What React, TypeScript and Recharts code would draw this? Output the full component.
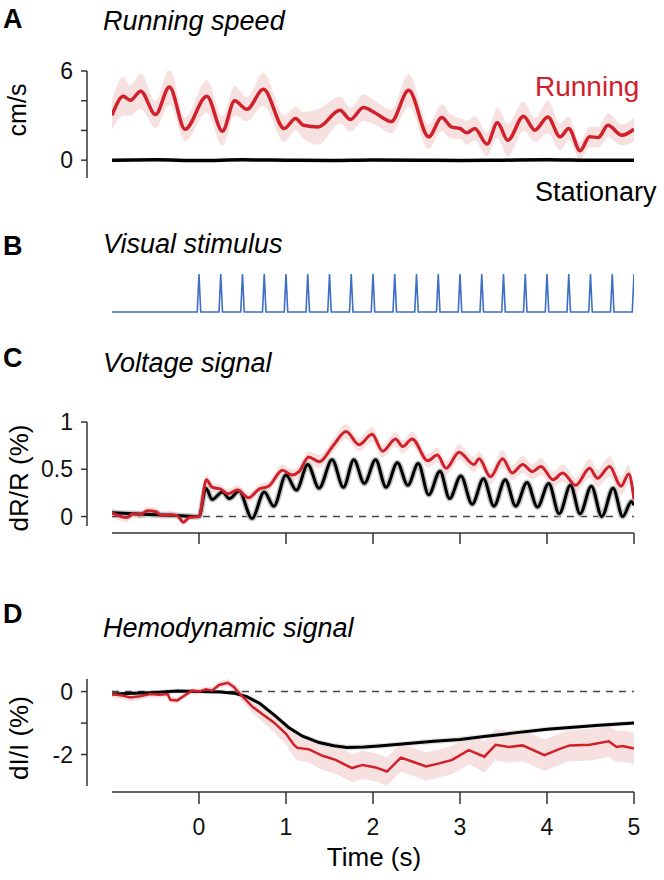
import React from 'react';
import { ComposedChart, Line, Area, XAxis, YAxis, ReferenceLine } from 'recharts';

const FONT = '"Liberation Sans", Arial, Helvetica, sans-serif';
const RED = '#d2202a';
const BAND = '#f7e0e0';
const GRAY_BAND = '#dcdcdc';
const BLUE = '#3d6fc7';
const AX = '#333';

// A: running speed (cm/s)
const runT = [-1, -0.87, -0.79, -0.67, -0.5, -0.34, -0.16, 0.09, 0.27, 0.41, 0.55, 0.74, 0.98, 1.11, 1.2, 1.37, 1.62, 1.74, 1.89, 2.03, 2.21, 2.41, 2.64, 2.79, 2.9, 3.0, 3.08, 3.17, 3.31, 3.43, 3.55, 3.73, 3.86, 4.01, 4.15, 4.25, 4.38, 4.49, 4.59, 4.7, 4.86, 5.0];
const runV = [3.02, 4.3, 4.03, 4.64, 3.07, 4.93, 2.08, 4.3, 1.95, 3.99, 3.42, 4.77, 2.13, 2.8, 2.35, 2.24, 3.36, 2.73, 3.54, 3.16, 2.6, 4.7, 1.57, 2.87, 2.24, 2.13, 1.84, 2.13, 1.08, 2.51, 1.34, 2.96, 2.02, 2.91, 1.57, 2.13, 0.63, 1.57, 1.53, 2.35, 1.68, 2.08];
const runSem = [1.0, 1.3, 1.0, 1.2, 0.9, 1.2, 0.8, 1.1, 1.0, 1.0, 0.8, 1.1, 0.9, 0.8, 0.9, 1.2, 0.9, 0.8, 0.9, 0.8, 0.8, 1.1, 0.8, 0.9, 0.8, 0.7, 0.8, 0.8, 0.8, 1.0, 1.1, 1.0, 0.8, 1.1, 0.9, 0.8, 0.6, 0.7, 0.7, 0.8, 0.7, 0.8];
const statT = [-1, -0.5, 0, 0.5, 1, 1.5, 2, 2.5, 3, 3.5, 4, 4.5, 5];
const statV = [0, 0.02, -0.02, 0.02, 0, -0.02, 0.01, 0, -0.02, 0, 0.02, -0.01, 0];

// B: stimulus onsets (s)
const stimTimes = [0, 0.25, 0.5, 0.75, 1, 1.25, 1.5, 1.75, 2, 2.25, 2.5, 2.75, 3, 3.25, 3.5, 3.75, 4, 4.25, 4.5, 4.75, 5];

// C: voltage signal dR/R (%)
const vRunT = [-1, -0.83, -0.76, -0.68, -0.59, -0.49, -0.43, -0.34, -0.25, -0.18, -0.11, 0, 0.085, 0.15, 0.25, 0.33, 0.44, 0.57, 0.69, 0.8, 0.96, 1.07, 1.15, 1.26, 1.38, 1.55, 1.69, 1.84, 1.99, 2.11, 2.26, 2.34, 2.45, 2.63, 2.74, 2.84, 2.99, 3.16, 3.22, 3.35, 3.49, 3.6, 3.72, 3.83, 3.93, 4.07, 4.18, 4.33, 4.49, 4.58, 4.72, 4.85, 4.94, 5.0];
const vRunV = [0.04, -0.01, 0.03, 0.02, 0.06, 0.05, 0.01, 0.02, 0.01, -0.06, -0.01, 0.0, 0.39, 0.31, 0.29, 0.24, 0.28, 0.2, 0.29, 0.32, 0.49, 0.44, 0.475, 0.63, 0.58, 0.76, 0.9, 0.76, 0.87, 0.69, 0.82, 0.74, 0.82, 0.59, 0.65, 0.51, 0.68, 0.55, 0.61, 0.42, 0.61, 0.46, 0.55, 0.475, 0.53, 0.39, 0.46, 0.33, 0.51, 0.405, 0.53, 0.32, 0.45, 0.18];
const vRunSem = [0.05, 0.05, 0.04, 0.04, 0.04, 0.04, 0.04, 0.04, 0.03, 0.03, 0.03, 0.03, 0.05, 0.05, 0.05, 0.05, 0.05, 0.05, 0.05, 0.05, 0.06, 0.06, 0.06, 0.06, 0.07, 0.07, 0.08, 0.07, 0.08, 0.07, 0.08, 0.07, 0.08, 0.07, 0.08, 0.07, 0.08, 0.08, 0.08, 0.08, 0.09, 0.08, 0.09, 0.08, 0.09, 0.08, 0.09, 0.08, 0.1, 0.09, 0.11, 0.1, 0.1, 0.08];
const vStatT = [-1, -0.75, -0.5, -0.25, 0, 0.08, 0.15, 0.27, 0.35, 0.46, 0.61, 0.75, 0.86, 1.0, 1.12, 1.25, 1.38, 1.53, 1.66, 1.78, 1.9, 2.03, 2.15, 2.28, 2.4, 2.52, 2.64, 2.77, 2.88, 3.01, 3.14, 3.27, 3.39, 3.52, 3.64, 3.77, 3.89, 4.02, 4.14, 4.27, 4.38, 4.51, 4.63, 4.76, 4.87, 4.97, 5.0];
const vStatV = [0.04, 0.03, 0.02, 0.01, 0.0, 0.3, 0.18, 0.26, 0.19, 0.27, -0.02, 0.26, 0.11, 0.44, 0.28, 0.55, 0.3, 0.6, 0.31, 0.6, 0.35, 0.6, 0.31, 0.57, 0.33, 0.56, 0.23, 0.48, 0.19, 0.43, 0.13, 0.4, 0.11, 0.39, 0.11, 0.36, 0.1, 0.35, 0.03, 0.33, 0.03, 0.32, 0.0, 0.3, 0.0, 0.16, 0.12];

// D: hemodynamic signal dI/I (%)
const hRunT = [-1, -0.87, -0.79, -0.68, -0.56, -0.45, -0.36, -0.33, -0.25, -0.17, -0.08, 0, 0.08, 0.15, 0.23, 0.33, 0.4, 0.48, 0.61, 0.73, 0.86, 1.0, 1.09, 1.13, 1.26, 1.42, 1.57, 1.7, 1.76, 1.88, 2.03, 2.16, 2.32, 2.45, 2.61, 2.76, 2.91, 3.1, 3.28, 3.41, 3.56, 3.72, 3.97, 4.14, 4.26, 4.49, 4.71, 4.8, 4.87, 5.0];
const hRunV = [-0.08, -0.13, -0.19, -0.15, -0.08, -0.1, -0.08, -0.26, -0.28, -0.13, 0.03, 0.0, 0.07, 0.03, 0.21, 0.28, 0.15, -0.1, -0.47, -0.72, -0.98, -1.34, -1.69, -1.79, -1.83, -2.04, -2.17, -2.35, -2.43, -2.33, -2.41, -2.54, -2.1, -2.22, -2.38, -2.28, -2.17, -1.86, -2.07, -1.69, -1.76, -1.71, -2.02, -1.83, -1.71, -1.69, -1.58, -1.76, -1.73, -1.81];
const hRunSem = [0.12, 0.12, 0.12, 0.12, 0.1, 0.1, 0.1, 0.1, 0.1, 0.1, 0.1, 0.1, 0.1, 0.1, 0.1, 0.12, 0.12, 0.15, 0.2, 0.25, 0.3, 0.35, 0.4, 0.4, 0.42, 0.45, 0.45, 0.45, 0.45, 0.45, 0.45, 0.45, 0.45, 0.45, 0.45, 0.45, 0.45, 0.45, 0.5, 0.5, 0.5, 0.5, 0.5, 0.5, 0.5, 0.5, 0.5, 0.5, 0.5, 0.5];
const hStatT = [-1, -0.75, -0.5, -0.25, 0, 0.25, 0.4, 0.55, 0.7, 0.88, 1.03, 1.19, 1.38, 1.55, 1.7, 1.9, 2.1, 2.4, 2.7, 3.0, 3.3, 3.6, 4.0, 4.3, 4.6, 5.0];
const hStatV = [-0.08, -0.05, -0.03, 0.02, 0, -0.01, -0.05, -0.16, -0.38, -0.78, -1.14, -1.42, -1.62, -1.72, -1.78, -1.76, -1.72, -1.65, -1.58, -1.52, -1.42, -1.32, -1.2, -1.13, -1.07, -1.0];
const hStatSem = [0.08, 0.08, 0.08, 0.08, 0.06, 0.06, 0.06, 0.07, 0.08, 0.08, 0.08, 0.08, 0.09, 0.09, 0.09, 0.09, 0.09, 0.09, 0.09, 0.09, 0.08, 0.08, 0.08, 0.07, 0.07, 0.07];

const timeTicks = [0, 1, 2, 3, 4, 5];

type Row = { t: number; v: number; band?: [number, number] };

function rows(t: number[], v: number[], sem?: number[]): Row[] {
  return t.map((x, i) => ({
    t: x,
    v: v[i],
    band: sem ? [v[i] - sem[i], v[i] + sem[i]] : undefined,
  }));
}

function stimRows(): Row[] {
  const out: Row[] = [{ t: -1, v: 0 }];
  for (const s of stimTimes) {
    out.push({ t: s - 0.02, v: 0 }, { t: s, v: 1 }, { t: s + 0.02, v: 0 });
  }
  return out;
}

const tickStyle = { fontSize: 23, fill: '#111', fontFamily: FONT };
const axisLine = { stroke: AX, strokeWidth: 1.5 };

function PadY() {
  return <YAxis yAxisId="pad" width={25} axisLine={false} tickLine={false} tick={false} />;
}

function RunningPanel() {
  return (
    <ComposedChart width={664} height={190} margin={{ top: 71, right: 30, bottom: 12, left: 0 }}>
      <XAxis xAxisId="t" type="number" dataKey="t" domain={[-1, 5]} hide allowDataOverflow />
      {PadY()}
      <YAxis
        yAxisId="y"
        width={87}
        type="number"
        domain={[-1.2, 6]}
        ticks={[0, 2, 4, 6]}
        tickFormatter={(v: number) => (v === 0 || v === 6 ? String(v) : '')}
        allowDataOverflow
        axisLine={axisLine}
        tickLine={axisLine}
        tickSize={6}
        tickMargin={8}
        tick={tickStyle}
      />
      <Area xAxisId="t" yAxisId="y" data={rows(runT, runV, runSem)} dataKey="band" type="monotone" stroke="none" fill={BAND} fillOpacity={1} isAnimationActive={false} />
      <Line xAxisId="t" yAxisId="y" data={rows(statT, statV)} dataKey="v" type="monotone" stroke="#000" strokeWidth={3.5} dot={false} activeDot={false} isAnimationActive={false} />
      <Line xAxisId="t" yAxisId="y" data={rows(runT, runV)} dataKey="v" type="monotone" stroke={RED} strokeWidth={3.5} dot={false} activeDot={false} isAnimationActive={false} />
    </ComposedChart>
  );
}

function StimulusPanel() {
  return (
    <ComposedChart width={664} height={60} margin={{ top: 14, right: 30, bottom: 8, left: 112 }}>
      <XAxis xAxisId="t" type="number" dataKey="t" domain={[-1, 5]} hide allowDataOverflow />
      <YAxis yAxisId="y" type="number" domain={[0, 1]} hide />
      <Line xAxisId="t" yAxisId="y" data={stimRows()} dataKey="v" type="linear" stroke={BLUE} strokeWidth={1.6} dot={false} activeDot={false} isAnimationActive={false} />
    </ComposedChart>
  );
}

function VoltagePanel() {
  return (
    <ComposedChart width={664} height={160} margin={{ top: 22, right: 30, bottom: 7, left: 0 }}>
      <XAxis xAxisId="pad" height={7} axisLine={false} tickLine={false} tick={false} />
      <XAxis
        xAxisId="t"
        type="number"
        dataKey="t"
        domain={[-1, 5]}
        ticks={timeTicks}
        allowDataOverflow
        height={20}
        axisLine={axisLine}
        tickLine={axisLine}
        tickSize={11}
        tickFormatter={() => ''}
        tick={tickStyle}
      />
      {PadY()}
      <YAxis
        yAxisId="y"
        width={87}
        type="number"
        domain={[-0.1, 1]}
        ticks={[0, 0.5, 1]}
        allowDataOverflow
        axisLine={axisLine}
        tickLine={axisLine}
        tickSize={6}
        tickMargin={8}
        tick={tickStyle}
      />
      <ReferenceLine xAxisId="t" yAxisId="y" y={0} stroke="#444" strokeWidth={1.5} strokeDasharray="7 6" />
      <Area xAxisId="t" yAxisId="y" data={rows(vRunT, vRunV, vRunSem)} dataKey="band" type="monotone" stroke="none" fill={BAND} fillOpacity={1} isAnimationActive={false} />
      <Line xAxisId="t" yAxisId="y" data={rows(vStatT, vStatV)} dataKey="v" type="monotone" stroke="#c4c4c4" strokeWidth={6} dot={false} activeDot={false} isAnimationActive={false} />
      <Line xAxisId="t" yAxisId="y" data={rows(vStatT, vStatV)} dataKey="v" type="monotone" stroke="#000" strokeWidth={3} dot={false} activeDot={false} isAnimationActive={false} />
      <Line xAxisId="t" yAxisId="y" data={rows(vRunT, vRunV)} dataKey="v" type="monotone" stroke={RED} strokeWidth={3} dot={false} activeDot={false} isAnimationActive={false} />
    </ComposedChart>
  );
}

function HemoPanel() {
  return (
    <ComposedChart width={664} height={220} margin={{ top: 19, right: 30, bottom: 27, left: 0 }}>
      <XAxis xAxisId="pad" height={6} axisLine={false} tickLine={false} tick={false} />
      <XAxis
        xAxisId="t"
        type="number"
        dataKey="t"
        domain={[-1, 5]}
        ticks={timeTicks}
        allowDataOverflow
        height={61}
        axisLine={axisLine}
        tickLine={axisLine}
        tickSize={12}
        tickMargin={15}
        tick={tickStyle}
      />
      {PadY()}
      <YAxis
        yAxisId="y"
        width={87}
        type="number"
        domain={[-3, 0.4]}
        ticks={[-2, -1, 0]}
        tickFormatter={(v: number) => (v === -1 ? '' : String(v))}
        allowDataOverflow
        axisLine={axisLine}
        tickLine={axisLine}
        tickSize={6}
        tickMargin={8}
        tick={tickStyle}
      />
      <ReferenceLine xAxisId="t" yAxisId="y" y={0} stroke="#444" strokeWidth={1.5} strokeDasharray="7 6" />
      <Area xAxisId="t" yAxisId="y" data={rows(hRunT, hRunV, hRunSem)} dataKey="band" type="linear" stroke="none" fill={BAND} fillOpacity={1} isAnimationActive={false} />
      <Area xAxisId="t" yAxisId="y" data={rows(hStatT, hStatV, hStatSem)} dataKey="band" type="linear" stroke="none" fill={GRAY_BAND} fillOpacity={0.8} isAnimationActive={false} />
      <Line xAxisId="t" yAxisId="y" data={rows(hStatT, hStatV)} dataKey="v" type="linear" stroke="#000" strokeWidth={3} dot={false} activeDot={false} isAnimationActive={false} />
      <Line xAxisId="t" yAxisId="y" data={rows(hRunT, hRunV)} dataKey="v" type="linear" stroke={RED} strokeWidth={2.5} dot={false} activeDot={false} isAnimationActive={false} />
    </ComposedChart>
  );
}

const abs = (top: number): React.CSSProperties => ({ position: 'absolute', left: 0, top });

export default function App() {
  const letter = { fontSize: 27, fontWeight: 700, fontFamily: FONT, fill: '#000' } as const;
  const title = { fontSize: 27, fontStyle: 'italic', fontFamily: FONT, fill: '#000' } as const;
  const label = { fontSize: 25, fontFamily: FONT, fill: '#000' } as const;
  return (
    <div style={{ position: 'absolute', left: 0, top: 0, width: 664, height: 880, background: '#fff' }}>
      <div style={abs(0)}><RunningPanel /></div>
      <div style={abs(260)}><StimulusPanel /></div>
      <div style={abs(400)}><VoltagePanel /></div>
      <div style={abs(660)}><HemoPanel /></div>
      <svg width={664} height={880} style={{ position: 'absolute', left: 0, top: 0, pointerEvents: 'none' }}>
        <text x={3} y={28} {...letter}>A</text>
        <text x={103} y={30} {...title}>Running speed</text>
        <text x={535} y={96} {...label} fontSize={28} fill={RED}>Running</text>
        <text x={535} y={201} {...label} fontSize={27}>Stationary</text>
        <text x={3} y={255} {...letter}>B</text>
        <text x={103} y={253} {...title}>Visual stimulus</text>
        <text x={3} y={367} {...letter}>C</text>
        <text x={103} y={372} {...title}>Voltage signal</text>
        <text x={3} y={623} {...letter}>D</text>
        <text x={103} y={637} {...title}>Hemodynamic signal</text>
        <text transform="translate(26,110) rotate(-90)" textAnchor="middle" {...label}>cm/s</text>
        <text transform="translate(28,478) rotate(-90)" textAnchor="middle" {...label} fontSize={26}>dR/R (%)</text>
        <text transform="translate(28,738) rotate(-90)" textAnchor="middle" {...label} fontSize={26}>dI/I (%)</text>
        <text x={374} y={866} textAnchor="middle" {...label} fontSize={26}>Time (s)</text>
      </svg>
    </div>
  );
}
